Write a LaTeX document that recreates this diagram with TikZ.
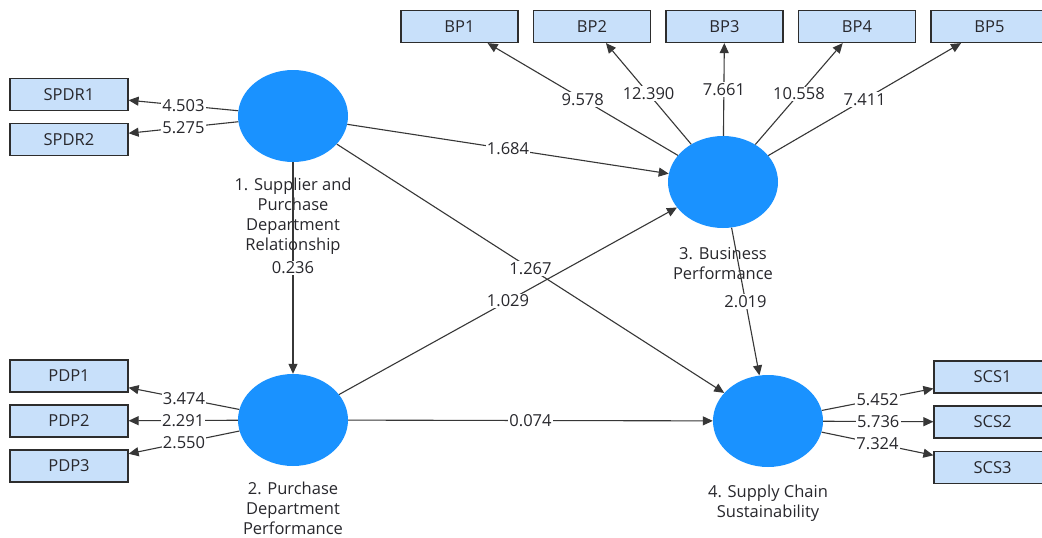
\documentclass[tikz,border=0pt]{standalone}
\usepackage{fontspec}
\setmainfont{Open Sans}
\usetikzlibrary{shapes.geometric,arrows.meta}
\definecolor{conblue}{RGB}{26,146,255}
\definecolor{boxfill}{RGB}{200,224,250}
\definecolor{boxdraw}{RGB}{45,45,45}
\definecolor{linecol}{RGB}{55,55,55}
\definecolor{textcol}{RGB}{40,40,45}
\begin{document}
\begin{tikzpicture}[x=1pt,y=-1pt,
  every node/.style={font=\fontsize{16.5}{20}\selectfont, text=textcol},
  indbox/.style={draw=boxdraw, line width=1.2pt, fill=boxfill, minimum width=117pt, minimum height=32pt, inner sep=0pt},
  construct/.style={ellipse, fill=conblue, minimum width=110pt, minimum height=92pt, inner sep=0pt},
  conlabel/.style={align=center, inner sep=0.5pt},
  link/.style={draw=linecol, line width=1.1pt, -{Triangle[length=10pt,width=9pt]}},
  val/.style={fill=white, inner sep=1.2pt}
]
\useasboundingbox (0,0) rectangle (1042,538);
\fill[white] (0,0) rectangle (1042,538);
\clip (0,0) rectangle (1042,538);

% constructs
\node[construct] (c1) at (293,116) {};
\node[construct] (c2) at (293,420) {};
\node[construct] (c3) at (723,182) {};
\node[construct] (c4) at (768,421) {};

% indicators
\node[indbox, minimum width=118pt] (spdr1) at (69,94.5) {SPDR1};
\node[indbox, minimum width=118pt] (spdr2) at (69,139.5) {SPDR2};
\node[indbox, minimum width=118pt] (pdp1) at (69,376) {PDP1};
\node[indbox, minimum width=118pt] (pdp2) at (69,421) {PDP2};
\node[indbox, minimum width=118pt] (pdp3) at (69,466) {PDP3};
\node[indbox] (bp1) at (459.5,26.5) {BP1};
\node[indbox] (bp2) at (592,26.5) {BP2};
\node[indbox] (bp3) at (724.5,26.5) {BP3};
\node[indbox] (bp4) at (857,26.5) {BP4};
\node[indbox] (bp5) at (989.5,26.5) {BP5};
\node[indbox] (scs1) at (992.5,377) {SCS1};
\node[indbox] (scs2) at (992.5,422) {SCS2};
\node[indbox] (scs3) at (992.5,467.5) {SCS3};

% construct labels
\node[conlabel] (l1) at (293,216.5) {1. Supplier and\\Purchase\\Department\\Relationship};
\node[conlabel] (l2) at (293,508.5) {2. Purchase\\Department\\Performance};
\node[conlabel] (l3) at (723,263.5) {3. Business\\Performance};
\node[conlabel] (l4) at (768,503.5) {4. Supply Chain\\Sustainability};

% outer loadings
\draw[link] (c1) -- node[val]{4.503} (spdr1);
\draw[link] (c1) -- node[val]{5.275} (spdr2);
\draw[link] (c2) -- node[val]{3.474} (pdp1);
\draw[link] (c2) -- node[val]{2.291} (pdp2);
\draw[link] (c2) -- node[val]{2.550} (pdp3);
\draw[link] (c3) -- node[val]{9.578} (bp1);
\draw[link] (c3) -- node[val]{12.390} (bp2);
\draw[link] (c3) -- node[val]{7.661} (bp3);
\draw[link] (c3) -- node[val]{10.558} (bp4);
\draw[link] (c3) -- node[val]{7.411} (bp5);
\draw[link] (c4) -- node[val]{5.452} (scs1);
\draw[link] (c4) -- node[val]{5.736} (scs2);
\draw[link] (c4) -- node[val]{7.324} (scs3);

% structural paths
\draw[link] (c1) -- node[val]{0.236} (c2);
\draw[link] (c1) -- node[val]{1.684} (c3);
\draw[link] (c1) -- node[val]{1.267} (c4);
\draw[link] (c2) -- node[val]{1.029} (c3);
\draw[link] (c2) -- node[val]{0.074} (c4);
\draw[link] (c3) -- node[val]{2.019} (c4);
\end{tikzpicture}
\end{document}
